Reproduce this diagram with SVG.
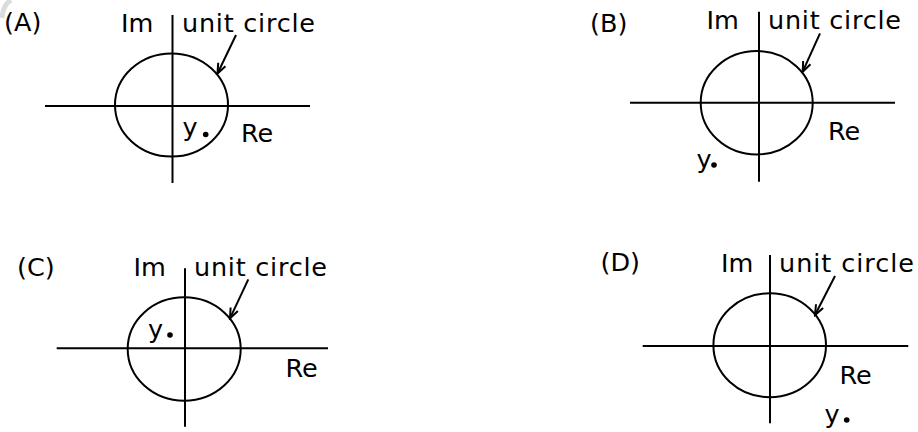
<svg xmlns="http://www.w3.org/2000/svg" width="918" height="432" viewBox="0 0 918 432">
<style>
.ax{stroke:#000;stroke-width:2;fill:none}
.ci{stroke:#000;stroke-width:2;fill:none}
.ar{stroke:#000;stroke-width:2;fill:none}
text{font-family:"DejaVu Sans","Liberation Sans",sans-serif;font-size:25.5px;fill:#000}
.dot{fill:#000}
</style>
<defs>
<marker id="ah" markerUnits="userSpaceOnUse" markerWidth="14" markerHeight="12" viewBox="-12 -6 14 12" refX="0" refY="0" orient="auto">
<path d="M -10 -4 L 0 0 L -10 4" fill="none" stroke="#000" stroke-width="2"/>
</marker>
</defs>
<rect width="918" height="432" fill="#fff"/>
<path d="M 2 18 Q 3 5 11 0" stroke="#dcdcdc" stroke-width="5" fill="none"/>

<g id="panelA">
<text x="4" y="31">(A)</text>
<text x="121" y="32">Im</text>
<text x="182" y="32" textLength="133" lengthAdjust="spacing">unit circle</text>
<line class="ax" x1="172.5" y1="15" x2="172.5" y2="183"/>
<line class="ax" x1="45" y1="106" x2="310" y2="106"/>
<ellipse class="ci" cx="171.5" cy="105" rx="56.5" ry="51.5"/>
<text x="182.5" y="136">y</text>
<circle class="dot" cx="205.7" cy="134.5" r="2.8"/>
<text x="241" y="141.5">Re</text>
</g>

<g id="panelB">
<text x="590" y="31.5">(B)</text>
<text x="706.5" y="28.5">Im</text>
<text x="768" y="28.5" textLength="133" lengthAdjust="spacing">unit circle</text>
<line class="ax" x1="759" y1="11.7" x2="759" y2="181.7"/>
<line class="ax" x1="630" y1="102.7" x2="895" y2="102.7"/>
<ellipse class="ci" cx="756.7" cy="102.7" rx="56" ry="51.7"/>
<text x="696.5" y="168">y</text>
<circle class="dot" cx="714" cy="165" r="2.8"/>
<text x="828" y="140">Re</text>
</g>

<g id="panelC">
<text x="17" y="276">(C)</text>
<text x="133.5" y="276">Im</text>
<text x="194" y="276" textLength="133" lengthAdjust="spacing">unit circle</text>
<line class="ax" x1="185" y1="268.3" x2="185" y2="426.7"/>
<line class="ax" x1="56.7" y1="348.3" x2="328" y2="348.3"/>
<ellipse class="ci" cx="184.2" cy="349" rx="56.5" ry="51.7"/>
<text x="148" y="338">y</text>
<circle class="dot" cx="170" cy="335" r="2.8"/>
<text x="285.5" y="376.7">Re</text>
</g>

<g id="panelD">
<text x="600.5" y="271">(D)</text>
<text x="721" y="271.7">Im</text>
<text x="779" y="271.7" textLength="135" lengthAdjust="spacing">unit circle</text>
<line class="ax" x1="770" y1="255" x2="770" y2="423.3"/>
<line class="ax" x1="642.7" y1="346" x2="908.3" y2="346"/>
<ellipse class="ci" cx="769.7" cy="345.3" rx="56.3" ry="52"/>
<text x="824.5" y="423">y</text>
<circle class="dot" cx="846.7" cy="420" r="2.8"/>
<text x="839.5" y="384">Re</text>
</g>

<g id="connectors">
<line class="ar" x1="236" y1="35" x2="217.5" y2="73.5" marker-end="url(#ah)"/>
<line class="ar" x1="820" y1="33.3" x2="802.7" y2="71.7" marker-end="url(#ah)"/>
<line class="ar" x1="248.3" y1="279.3" x2="230" y2="318.3" marker-end="url(#ah)"/>
<line class="ar" x1="835" y1="276" x2="815" y2="315" marker-end="url(#ah)"/>
</g>
</svg>
